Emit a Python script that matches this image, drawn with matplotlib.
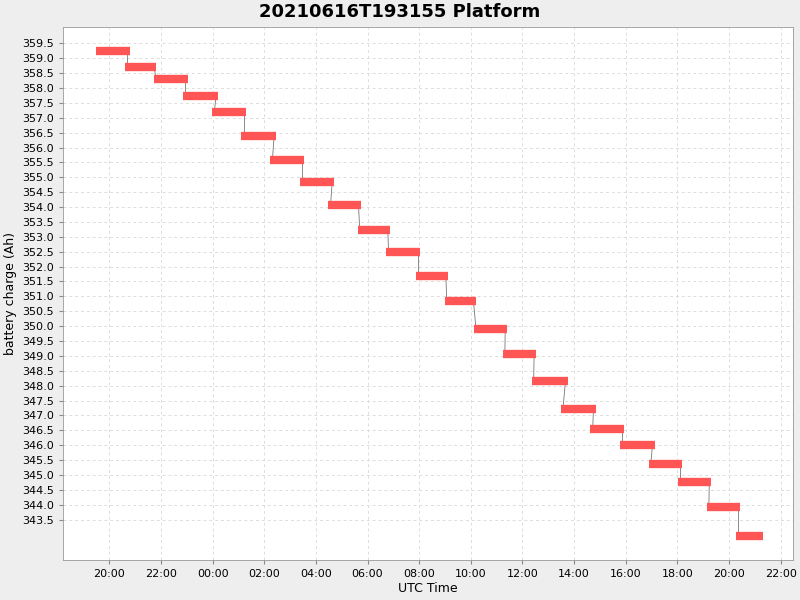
import matplotlib
matplotlib.use("Agg")
import matplotlib.pyplot as plt
import matplotlib.dates as mdates
import pandas as pd

# bar start times, durations (hours) and battery charge (Ah)
starts = ["2021-06-16 19:30", "2021-06-16 20:37", "2021-06-16 21:44", "2021-06-16 22:52",
          "2021-06-16 23:59", "2021-06-17 01:07", "2021-06-17 02:14", "2021-06-17 03:22",
          "2021-06-17 04:29", "2021-06-17 05:37", "2021-06-17 06:44", "2021-06-17 07:52",
          "2021-06-17 08:59", "2021-06-17 10:07", "2021-06-17 11:14", "2021-06-17 12:21",
          "2021-06-17 13:29", "2021-06-17 14:38", "2021-06-17 15:46", "2021-06-17 16:53",
          "2021-06-17 18:01", "2021-06-17 19:08", "2021-06-17 20:16"]
durations = [1.3, 1.2, 1.3, 1.35, 1.3, 1.35, 1.3, 1.35, 1.25, 1.25, 1.3, 1.25,
             1.2, 1.3, 1.3, 1.4, 1.35, 1.3, 1.35, 1.3, 1.3, 1.3, 1.05]
charge = [359.23, 358.70, 358.30, 357.72, 357.18, 356.38, 355.58, 354.84, 354.07,
          353.23, 352.49, 351.69, 350.85, 349.91, 349.07, 348.17, 347.23, 346.53,
          346.00, 345.36, 344.76, 343.92, 342.96]

t0 = pd.to_datetime(starts)
t1 = t0 + pd.to_timedelta(durations, unit="h")

fig = plt.figure(figsize=(8, 6), dpi=100, facecolor="#EEEEEE")
ax = fig.add_axes([0.079, 0.067, 0.912, 0.888])
ax.set_facecolor("white")

# thin connectors between consecutive bars
for i in range(len(charge) - 1):
    ax.plot([t1[i] - pd.Timedelta(minutes=5), t0[i + 1] + pd.Timedelta(minutes=5)],
            [charge[i], charge[i + 1]], color="#777777", lw=0.6, zorder=2)
for a, b, c in zip(t0, t1, charge):
    ax.plot([a, b], [c, c], color="#FF5555", lw=6, solid_capstyle="butt", zorder=3)

ax.set_xlim(pd.Timestamp("2021-06-16 18:13"), pd.Timestamp("2021-06-17 22:28"))
ax.set_ylim(342.15, 360.05)
ax.xaxis.set_major_locator(mdates.HourLocator(byhour=range(0, 24, 2)))
ax.xaxis.set_major_formatter(mdates.DateFormatter("%H:%M"))
ax.set_yticks([343.5 + 0.5 * k for k in range(33)])
ax.yaxis.set_major_formatter(matplotlib.ticker.FormatStrFormatter("%.1f"))
ax.tick_params(labelsize=8, length=3, color="#888888")
ax.grid(True, color="#DDDDDD", ls=(0, (3, 3)), lw=0.7)
ax.set_axisbelow(True)
for s in ax.spines.values():
    s.set_color("#999999")
    s.set_linewidth(0.6)

ax.set_xlabel("UTC Time", fontsize=9, labelpad=2)
ax.set_ylabel("battery charge (Ah)", fontsize=9)
fig.suptitle("20210616T193155 Platform", fontsize=13, fontweight="bold", y=0.995)

fig.savefig("out.png", facecolor=fig.get_facecolor())
